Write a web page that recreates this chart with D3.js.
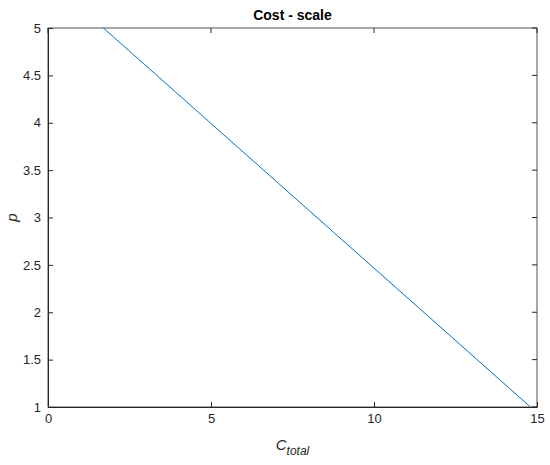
<!DOCTYPE html>
<html><head><meta charset="utf-8">
<script src="https://cdn.jsdelivr.net/npm/d3@7"></script>
<style>body{margin:0;background:#fff}text{font-family:"Liberation Sans",Arial,sans-serif}</style>
</head><body><div id="chart"></div>
<script>
var xTicks = [0, 5, 10, 15];
var yTicks = [1, 1.5, 2, 2.5, 3, 3.5, 4, 4.5, 5];
var lineX = [1.7, 14.8];
var lineY = [5, 1];

var W = 550, H = 465;
var margin = {top: 28, right: 13, bottom: 58, left: 48};
var svg = d3.select("#chart").append("svg").attr("width", W).attr("height", H);
var w = W - margin.left - margin.right, h = H - margin.top - margin.bottom;
var g = svg.append("g").attr("transform", "translate(" + margin.left + "," + margin.top + ")");

var x = d3.scaleLinear().domain([0, 15]).range([0, w]);
var y = d3.scaleLinear().domain([1, 5]).range([h, 0]);

g.append("rect").attr("width", w).attr("height", h).attr("fill", "#fff").attr("stroke", "#262626").attr("stroke-width", 0.8);

var xa = g.append("g").attr("transform", "translate(0," + h + ")")
  .call(d3.axisBottom(x).tickValues(xTicks).tickSizeInner(-5).tickSizeOuter(0).tickPadding(7));
var ya = g.append("g")
  .call(d3.axisLeft(y).tickValues(yTicks).tickFormat(d3.format("")).tickSizeInner(-5).tickSizeOuter(0).tickPadding(7));
[xa, ya].forEach(function(a){
  a.select(".domain").attr("stroke", "#262626");
  a.selectAll("line").attr("stroke", "#262626");
  a.selectAll("text").attr("fill", "#262626").attr("font-size", 13);
});
// top/right ticks
g.selectAll(".tt").data(xTicks).enter().append("line")
  .attr("x1", d => x(d)).attr("x2", d => x(d)).attr("y1", 0).attr("y2", 5).attr("stroke", "#262626");
g.selectAll(".rt").data(yTicks).enter().append("line")
  .attr("x1", w).attr("x2", w - 5).attr("y1", d => y(d)).attr("y2", d => y(d)).attr("stroke", "#262626");

var pts = lineX.map((d, i) => [d, lineY[i]]);
g.append("path").datum(pts)
  .attr("d", d3.line().x(d => x(d[0])).y(d => y(d[1])))
  .attr("fill", "none").attr("stroke", "#0072BD").attr("stroke-width", 1);

svg.append("text").attr("x", margin.left + w / 2).attr("y", 20).attr("text-anchor", "middle")
  .attr("font-weight", "bold").attr("font-size", 14).attr("fill", "#000").text("Cost - scale");

var xl = svg.append("text").attr("x", margin.left + w / 2).attr("y", 450).attr("text-anchor", "middle")
  .attr("font-size", 15).attr("fill", "#262626").attr("font-style", "italic");
xl.append("tspan").text("C");
xl.append("tspan").attr("dy", 5).attr("font-size", 12).text("total");

svg.append("text").attr("transform", "translate(17," + (margin.top + h / 2) + ") rotate(-90)")
  .attr("text-anchor", "middle").attr("font-size", 15).attr("font-style", "italic").attr("fill", "#262626").text("p");
</script></body></html>
